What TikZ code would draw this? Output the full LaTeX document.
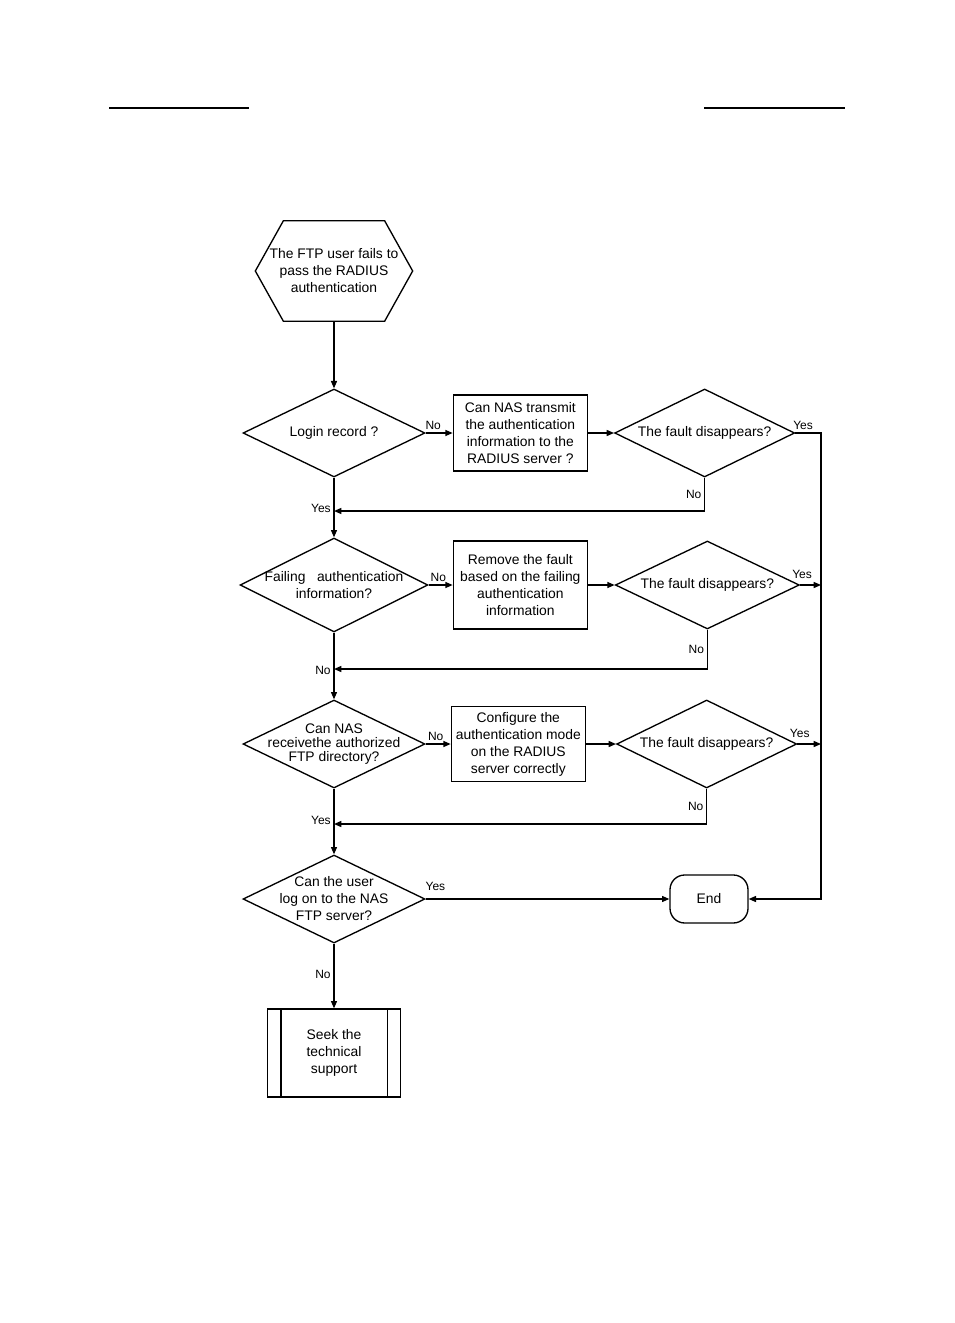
\documentclass[tikz,border=0pt]{standalone}
\usepackage{fontspec}
\setmainfont{Liberation Sans}
\usetikzlibrary{arrows.meta,positioning,shapes.geometric,calc}

\begin{document}
\begin{tikzpicture}[x=0.75pt, y=-0.75pt, line width=1pt,
  font=\fontsize{10.4}{12.75}\selectfont, >={Triangle[length=5.5pt,width=4.5pt]},
  dec/.style={diamond, draw, align=center, shape aspect=2, inner xsep=-20pt, inner ysep=-4pt, minimum width=136.5pt, minimum height=66pt},
  act/.style={rectangle, draw, align=center, inner sep=1pt, minimum width=100.5pt, minimum height=57pt},
  lbl/.style={font=\fontsize{9}{10}\selectfont, inner sep=2pt}]
\useasboundingbox (0,0) rectangle (954,1323);
% page rules
\draw (109,108) -- (249,108);
\draw (704,108) -- (845,108);

% start
\node[align=center, minimum width=117pt, minimum height=74.25pt, inner sep=0pt] (start) at (334,271) {The FTP user fails to\\pass the RADIUS\\authentication};
\draw ($(start.north west)+(28,0)$) -- ($(start.north east)+(-28,0)$) -- (start.east) -- ($(start.south east)+(-28,0)$) -- ($(start.south west)+(28,0)$) -- (start.west) -- cycle;

% row 1
\node[dec] (d1) at (334,433) {Login record ?};
\node[act, right=20.25pt of d1] (a1) {Can NAS transmit\\the authentication\\information to the\\RADIUS server ?};
\node[dec, minimum width=135pt, right=19.5pt of a1] (f1) {The fault disappears?};

% row 2
\node[dec, minimum width=141pt, minimum height=70.5pt] (d2) at (334,585) {Failing\ \ \ authentication\\information?};
\node[act, minimum height=66pt] (a2) at (a1 |- d2) {Remove the fault\\based on the failing\\authentication\\information};
\node[dec, minimum width=138pt] (f2) at ([xshift=2pt]f1 |- d2) {The fault disappears?};

% row 3
\node[dec, font=\fontsize{10.4}{10.5}\selectfont] (d4) at (334,744) {Can NAS\\receivethe authorized\\FTP directory?};
\node[act, minimum height=56.25pt] (a3) at ([xshift=-1.5pt]a1 |- d4) {Configure the\\authentication mode\\on the RADIUS\\server correctly};
\node[dec, minimum width=135pt] (f3) at ([xshift=1.5pt]f1 |- d4) {The fault disappears?};

% row 4
\node[dec] (d6) at (334,899) {Can the user\\log on to the NAS\\FTP server?};
\node[draw, rounded corners=11pt, minimum width=58.5pt, minimum height=36pt] (endn) at (709,899) {End};
\node[act, minimum width=99.75pt, minimum height=66pt] (seek) at (334,1053) {Seek the\\technical\\support};
\draw ([xshift=10.5pt]seek.north west) -- ([xshift=10.5pt]seek.south west);
\draw ([xshift=-10.5pt]seek.north east) -- ([xshift=-10.5pt]seek.south east);

\coordinate (rt) at (821,434);
\coordinate (j1) at (334,511);
\coordinate (j2) at (334,669);
\coordinate (j3) at (334,824);

% main column
\draw[->] (start) -- (d1);
\draw[->] (d1) -- node[lbl, pos=0.52, left]{Yes} (d2);
\draw[->] (d2) -- node[lbl, pos=0.57, left]{No} (d4);
\draw[->] (d4) -- node[lbl, pos=0.48, left]{Yes} (d6);
\draw[->] (d6) -- node[lbl, pos=0.48, left]{No} (seek);

% rows
\draw[->] (d1) -- node[lbl, above, pos=0.28]{No} (a1);
\draw[->] (a1) -- (f1);
\draw[->] (d2) -- node[lbl, above, pos=0.4]{No} (a2);
\draw[->] (a2) -- (f2);
\draw[->] (d4) -- node[lbl, above, pos=0.4]{No} (a3);
\draw[->] (a3) -- (f3);
\draw[->] (d6) -- node[lbl, above=4pt, pos=0.04]{Yes} (endn);

% fault disappears: yes
\draw[->] (f1.east) -- node[lbl, above, pos=0.3]{Yes} (f1.east -| rt) |- (endn);
\draw[->] (f2) -- node[lbl, above=2pt, pos=0.1]{Yes} (f2 -| rt);
\draw[->] (f3) -- node[lbl, above=2pt, pos=0.1]{Yes} (f3 -| rt);

% fault disappears: no
\draw[->] (f1.south) |- node[lbl, pos=0.25, left]{No} (j1);
\draw[->] (f2.south) |- node[lbl, pos=0.25, left]{No} (j2);
\draw[->] (f3.south) |- node[lbl, pos=0.25, left]{No} (j3);
\end{tikzpicture}
\end{document}
